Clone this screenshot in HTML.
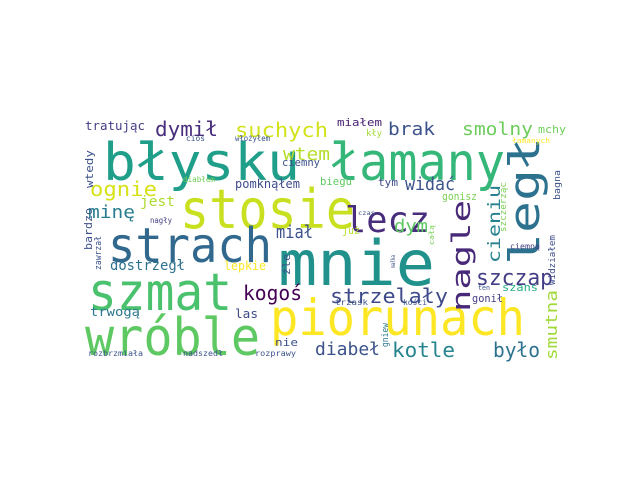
<!DOCTYPE html>
<html><head><meta charset="utf-8"><style>
html,body{margin:0;padding:0;background:#fff;}
svg{display:block;}
text{font-family:"DejaVu Sans Mono","Liberation Mono",monospace;}
</style></head><body>
<svg id="c" width="640" height="480">
<rect x="0" y="0" width="640" height="480" fill="#fff"/>
<g id="words"></g>
</svg>
<script>
// word, x, y (baseline), size, width/length, color, vertical
const words = ["błysku","łamany","stosie","strach","mnie","szmat","wróble","piorunach","legł","lecz","nagle","cieniu","szczap","strzelały","kogoś","diabeł","kotle","było","smutna","dymił","suchych","wtem","brak","smolny","tratując","miałem","kły","mchy","łamanych","ciemny","ognie","widać","biegu","tym","pomknąłem","diabłem","wtedy","cios","włożyłem","minę","jest","nagły","miał","dym","gonisz","szczerząc","już","czas","całą","bagna","widziałem","ciemną","bardzo","zawrzał","dostrzegł","lepkie","źle","las","trwogą","nie","rozprawy","rozbrzmiała","nadszedł","gniew","ten","szans","gonił","trzask","kości","małka"];
const xs = [103,330,180,108,278,88,85,270,539,345,470,500,476,330,243,315,392,493,557,155,235,283,388,462,85,337,366,538,512,282,90,405,320,378,235,183,93,186,235,88,140,150,276,394,442,506,342,358,434,560,555,510,92,101,110,224,290,235,90,275,255,88,183,388,478,502,472,335,403,395];
const ys = [180,180,228,262,285,310,355,335,265,232,312,263,285,303,300,355,357,357,360,136,137,160,135,135,130,126,136,133,143,166,196,190,185,186,188,182,188,141,141,218,206,223,238,232,200,232,234,215,245,200,285,249,250,270,270,270,275,318,316,346,356,356,356,347,290,291,302,305,305,268];
const sizes = [52,52,54,48,62,52,52,50,42,36,26,17,22,20,20,18,20,20,16,20,20,18,18,18,12,11,9,11,7,11,20,18,11,11,12,8,11,8,8,18,14,8,18,18,11,9,11,6,7,9,9,8,11,9,14,12,11,12,12,11,8,8,8,9,7,11,11,8,8,6];
const lens = [197,175,175,164,157,144,175,255,128,85,112,78,77,118,59,65,63,47,70,63,93,47,47,71,60,45,16,28,38,38,67,50,32,20,65,32,38,19,35,47,35,22,37,34,35,50,18,17,20,30,50,30,42,34,75,42,21,23,50,23,41,55,40,24,12,36,31,33,24,13];
const colors = ["#1f9e89","#35b779","#c8e020","#31688e","#21918c","#4ac16d","#5ec962","#fde725","#2c728e","#472d7b","#482878","#26828e","#433e85","#3e4a89","#440154","#3b528b","#25858e","#2c728e","#a0da39","#472d7b","#d2e21b","#b5de2b","#3b528b","#6ccd5a","#433e85","#482173","#a5db36","#6ece58","#fde725","#3b528b","#d8e219","#3b528b","#5ec962","#3f4889","#3e4c8a","#6ece58","#3b528b","#3b528b","#3b528b","#287d8e","#addc30","#433e85","#3b528b","#5ec962","#7ad151","#7ad151","#b5de2b","#3b528b","#7ad151","#3b528b","#3e4c8a","#433e85","#3b528b","#3b528b","#2c728e","#fde725","#3b528b","#3e4a89","#2a788e","#3b528b","#3b528b","#3b528b","#3b528b","#2a788e","#3b528b","#26ad81","#433e85","#3b528b","#3b528b","#3b528b"];
const vert = [0,0,0,0,0,0,0,0,1,0,1,1,0,0,0,0,0,0,1,0,0,0,0,0,0,0,0,0,0,0,0,0,0,0,0,0,1,0,0,0,0,0,0,0,0,1,0,0,1,1,1,0,1,1,0,0,1,0,0,0,0,0,0,1,0,0,0,0,0,1];
const g = document.getElementById('words');
const NS = 'http://www.w3.org/2000/svg';
for (let i = 0; i < words.length; i++) {
  const t = document.createElementNS(NS, 'text');
  t.textContent = words[i];
  t.setAttribute('x', xs[i]);
  t.setAttribute('y', ys[i]);
  t.setAttribute('font-size', sizes[i]);
  t.setAttribute('fill', colors[i]);
  t.setAttribute('textLength', lens[i]);
  t.setAttribute('lengthAdjust', 'spacingAndGlyphs');
  if (vert[i]) t.setAttribute('transform', 'rotate(-90 ' + xs[i] + ' ' + ys[i] + ')');
  
  
  g.appendChild(t);
}
</script>
</body></html>
